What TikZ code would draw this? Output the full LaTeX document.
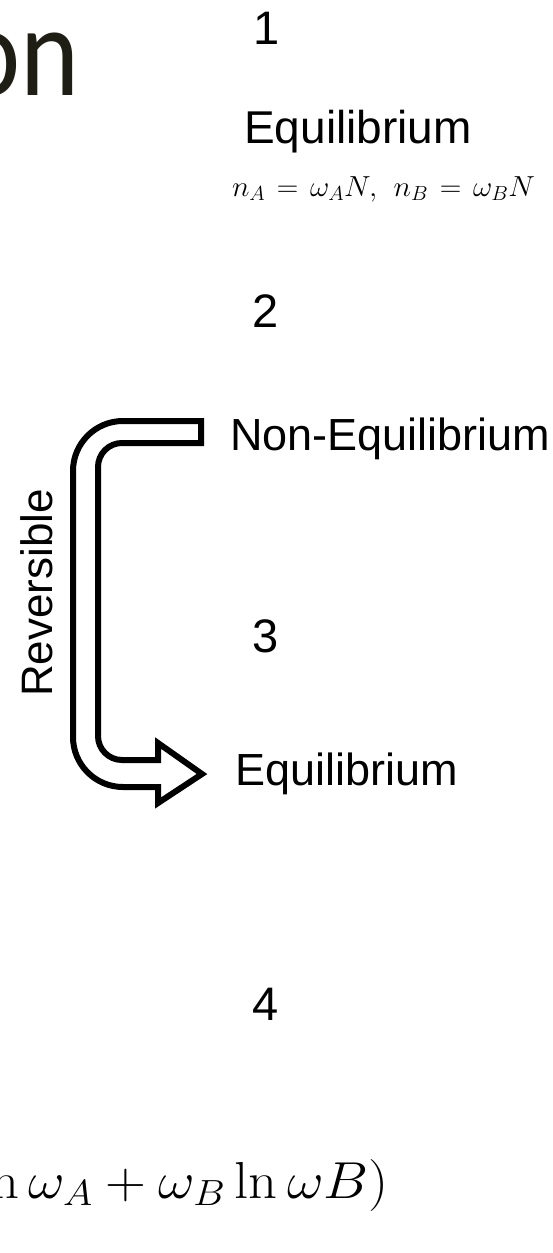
\RequirePackage{fix-cm}
\documentclass[tikz,border=0pt]{standalone}
\usepackage[no-math]{fontspec}
\setmainfont{Liberation Sans}
\newfontfamily\titlefont{Carlito}
\definecolor{titlecol}{RGB}{30,30,20}
\begin{document}
\begin{tikzpicture}[x=1pt,y=-1pt,
  lbl/.style={inner sep=0pt,outer sep=0pt,font=\fontsize{45}{50}\selectfont},
  digit/.style={inner sep=0pt,outer sep=0pt,anchor=base,font=\fontsize{47}{50}\selectfont},
  mth/.style={inner sep=0pt,outer sep=0pt},
  bentarrow/.style={draw=black,line width=6pt,line join=miter,fill=white}]
\useasboundingbox (0,0) rectangle (553,1253);
\clip (0,0) rectangle (553,1253);
\fill[white] (0,0) rectangle (553,1253);
% title fragment
\node[inner sep=0pt,anchor=base east,text=titlecol] (title) at (80,95)
  {\scalebox{0.87}[1]{\titlefont\fontsize{129}{140}\selectfont on}};
% step numbers
\node[digit] (d1) at (267,44) {1};
\node[digit] (d2) at (266,327) {2};
\node[digit] (d3) at (266,652) {3};
\node[digit] (d4) at (266,1020) {4};
% states
\node[lbl,anchor=base,font=\fontsize{46}{50}\selectfont] (eqA) at (358,143) {Equilibrium};
\node[mth,anchor=base west] (relA) at (232,196)
  {\scalebox{1.03}[1]{\fontsize{29}{32}\selectfont\thickmuskip=7mu $n_A=\omega_A N,\; n_B=\omega_B N$}};
\node[lbl,anchor=base west] (neq) at (230,450) {Non-Equilibrium};
\node[lbl,anchor=base west] (eqB) at (235,785) {Equilibrium};
\node[lbl,anchor=base,rotate=90,font=\fontsize{44}{48}\selectfont] (rev) at (52,593) {Reversible};
% bent block arrow
\draw[bentarrow] (201,421) -- (123,421) arc[start angle=-90,end angle=-180,radius=50]
  -- (73,737) arc[start angle=-180,end angle=-270,radius=50]
  -- (158,787) -- (158,803) -- (202,774) -- (158,743) -- (158,760)
  -- (122,760) arc[start angle=-270,end angle=-180,radius=24]
  -- (98,467) arc[start angle=-180,end angle=-90,radius=24]
  -- (201,443) -- cycle;
% bottom formula
\node[mth,anchor=base east] (ent) at (389,1198)
  {\scalebox{1.09}[1]{\fontsize{52}{58}\selectfont $\omega_A\ln\omega_A+\omega_B\ln\omega B)$}};
\end{tikzpicture}
\end{document}
